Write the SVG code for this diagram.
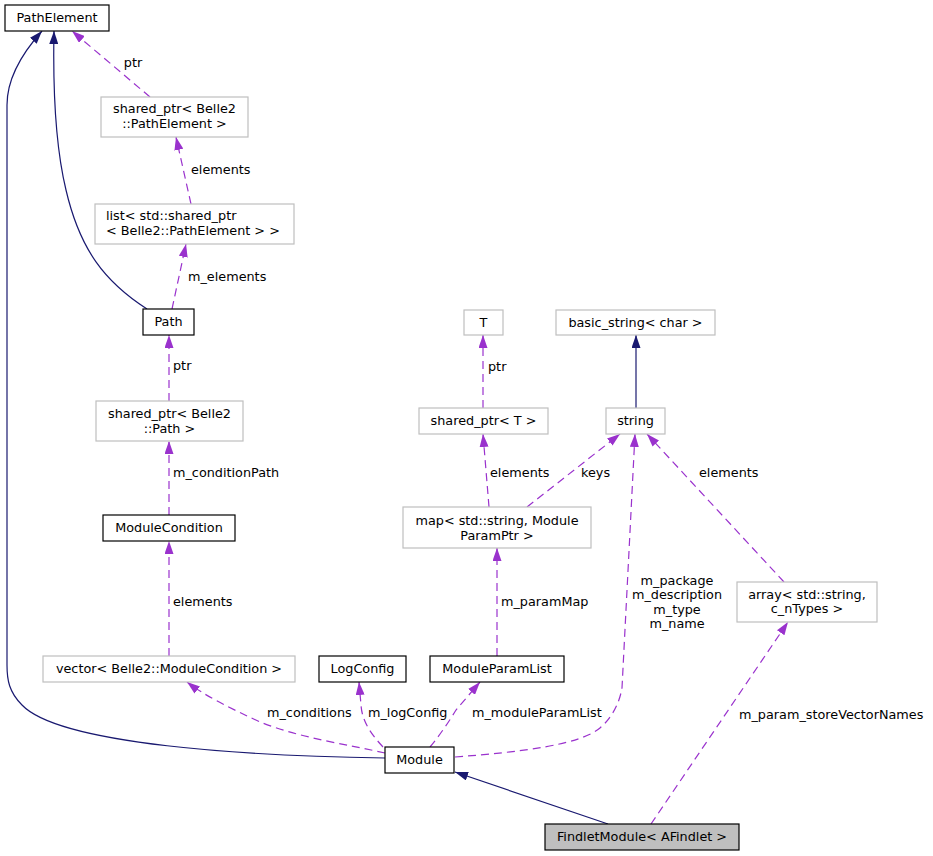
<svg xmlns="http://www.w3.org/2000/svg" width="933" height="856" viewBox="0 0 933 856">
<style>
text { font-family: "DejaVu Sans", "Liberation Sans", sans-serif; font-size: 12.8px; fill: #000; }
.c { text-anchor: middle; }
.s { text-anchor: start; }
.doc { fill: #fff; stroke: #000; stroke-width: 1.2; }
.und { fill: #fff; stroke: #bfbfbf; stroke-width: 1.2; }
.cur { fill: #bfbfbf; stroke: #000; stroke-width: 1.2; }
.inh { fill: none; stroke: #191970; stroke-width: 1.2; marker-end: url(#an); }
.use { fill: none; stroke: #9a32cd; stroke-width: 1.2; stroke-dasharray: 8,5; marker-end: url(#ap); }
</style>
<defs>
<marker id="an" markerUnits="userSpaceOnUse" viewBox="0 0 13 9" markerWidth="13" markerHeight="9" refX="13" refY="4.5" orient="auto">
<path d="M0,0 L13,4.5 L0,9 z" fill="#191970"/>
</marker>
<marker id="ap" markerUnits="userSpaceOnUse" viewBox="0 0 13 9" markerWidth="13" markerHeight="9" refX="13" refY="4.5" orient="auto">
<path d="M0,0 L13,4.5 L0,9 z" fill="#9a32cd"/>
</marker>
</defs>
<rect width="933" height="856" fill="#fff"/>
<g id="edges">
<path class="inh" d="M385,758 C250,756 60,745 22,705 C9,692 7,680 7,665 L7,105 C7,75 25,50 42,31"/>
<path class="inh" d="M147,309 C105,282 80,250 66,190 C54,140 53,80 54,31"/>
<path class="use" d="M150,97 L72,31"/>
<path class="use" d="M191,204 L176,137"/>
<path class="use" d="M172,309 L186,244"/>
<path class="use" d="M169,401 L169,335"/>
<path class="use" d="M169,515 L169,441"/>
<path class="use" d="M169,656 L169,541"/>
<path class="use" d="M385,753 C350,745 300,738 260,722 C230,708 205,696 187,682"/>
<path class="use" d="M383,747 C372,735 362,722 361,705 L359,682"/>
<path class="use" d="M430,747 C440,735 450,720 456,710 L480,682"/>
<path class="use" d="M455,757 C520,752 580,745 600,728 C614,716 620,700 622,688 L635,434"/>
<path class="inh" d="M608,824 L455,772"/>
<path class="use" d="M651,824 L788,622"/>
<path class="use" d="M784,582 L647,434"/>
<path class="use" d="M527,507 L620,434"/>
<path class="use" d="M489,507 L483,434"/>
<path class="use" d="M483,408 L483,335"/>
<path class="inh" d="M636,408 L636,335"/>
<path class="use" d="M497,656 L497,548"/>
<text class="c" x="133" y="67">ptr</text>
<text class="s" x="191" y="174">elements</text>
<text class="s" x="188" y="281">m_elements</text>
<text class="s" x="173" y="370">ptr</text>
<text class="s" x="173" y="477">m_conditionPath</text>
<text class="s" x="173" y="606">elements</text>
<text class="s" x="267" y="717">m_conditions</text>
<text class="s" x="368" y="717">m_logConfig</text>
<text class="s" x="472" y="717">m_moduleParamList</text>
<text class="c" x="677" y="584.5">m_package</text>
<text class="c" x="677" y="599">m_description</text>
<text class="c" x="677" y="613.5">m_type</text>
<text class="c" x="677" y="627.5">m_name</text>
<text class="s" x="739" y="718.5">m_param_storeVectorNames</text>
<text class="s" x="488" y="371">ptr</text>
<text class="s" x="490" y="477">elements</text>
<text class="s" x="581" y="477">keys</text>
<text class="s" x="699" y="477">elements</text>
<text class="s" x="501" y="606">m_paramMap</text>
</g>
<g id="PathElement"><rect class="doc" x="5" y="5" width="104" height="26"/><text class="c" x="57" y="22">PathElement</text></g>
<g id="SharedPtrPathElement"><rect class="und" x="101" y="97" width="147" height="40"/><text class="c" x="174.5" y="113">shared_ptr&lt; Belle2</text><text class="c" x="174.5" y="128">::PathElement &gt;</text></g>
<g id="ListSharedPtr"><rect class="und" x="95" y="204" width="199" height="40"/><text class="s" x="106" y="219.5">list&lt; std::shared_ptr</text><text class="s" x="106" y="234.5">&lt; Belle2::PathElement &gt; &gt;</text></g>
<g id="Path"><rect class="doc" x="143" y="309" width="51" height="26"/><text class="c" x="168.5" y="326">Path</text></g>
<g id="SharedPtrPath"><rect class="und" x="96" y="401" width="147" height="40"/><text class="c" x="169.5" y="418">shared_ptr&lt; Belle2</text><text class="c" x="169.5" y="432.5">::Path &gt;</text></g>
<g id="ModuleCondition"><rect class="doc" x="103" y="515" width="132" height="26"/><text class="c" x="169" y="532">ModuleCondition</text></g>
<g id="VectorModuleCondition"><rect class="und" x="43" y="656" width="252" height="26"/><text class="c" x="169" y="673">vector&lt; Belle2::ModuleCondition &gt;</text></g>
<g id="LogConfig"><rect class="doc" x="319" y="656" width="87" height="26"/><text class="c" x="362.5" y="673">LogConfig</text></g>
<g id="ModuleParamList"><rect class="doc" x="430" y="656" width="134" height="26"/><text class="c" x="497" y="673">ModuleParamList</text></g>
<g id="Module"><rect class="doc" x="385" y="747" width="69" height="26"/><text class="c" x="419.5" y="764">Module</text></g>
<g id="FindletModule"><rect class="cur" x="545" y="824" width="194" height="26"/><text class="c" x="642" y="841">FindletModule&lt; AFindlet &gt;</text></g>
<g id="T"><rect class="und" x="464" y="310" width="39" height="25"/><text class="c" x="483.5" y="327">T</text></g>
<g id="BasicString"><rect class="und" x="556" y="310" width="159" height="25"/><text class="c" x="635.5" y="327">basic_string&lt; char &gt;</text></g>
<g id="SharedPtrT"><rect class="und" x="419" y="408" width="129" height="26"/><text class="c" x="483.5" y="425">shared_ptr&lt; T &gt;</text></g>
<g id="String"><rect class="und" x="606" y="408" width="59" height="26"/><text class="c" x="635.5" y="425">string</text></g>
<g id="MapStringParam"><rect class="und" x="403" y="507" width="188" height="41"/><text class="c" x="497" y="524.5">map&lt; std::string, Module</text><text class="c" x="497" y="539.5">ParamPtr &gt;</text></g>
<g id="ArrayString"><rect class="und" x="737" y="582" width="140" height="40"/><text class="c" x="807" y="599">array&lt; std::string,</text><text class="c" x="807" y="613">c_nTypes &gt;</text></g>
</svg>
